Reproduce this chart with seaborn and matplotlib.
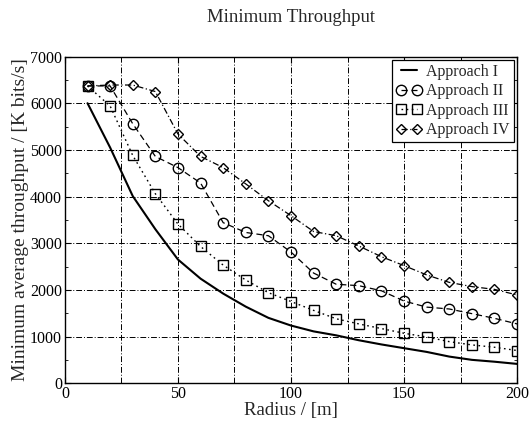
import numpy as np
import pandas as pd
import seaborn as sns
import matplotlib
matplotlib.use("Agg")
import matplotlib.pyplot as plt
from matplotlib.ticker import MultipleLocator

radius = [10, 20, 30, 40, 50, 60, 70, 80, 90, 100, 110, 120, 130, 140, 150, 160, 170, 180, 190, 200]
approach_1 = [6000, 5050, 4010, 3300, 2650, 2240, 1920, 1640, 1400, 1235, 1110, 1025, 920, 830, 750, 670, 570, 500, 460, 413]
approach_2 = [6370, 6370, 5560, 4860, 4620, 4290, 3440, 3230, 3160, 2810, 2360, 2120, 2090, 1980, 1760, 1630, 1590, 1490, 1390, 1270]
approach_3 = [6370, 5940, 4880, 4060, 3410, 2930, 2530, 2210, 1940, 1750, 1560, 1380, 1270, 1170, 1070, 990, 890, 820, 770, 700]
approach_4 = [6370, 6390, 6390, 6250, 5340, 4860, 4620, 4270, 3910, 3590, 3250, 3160, 2940, 2710, 2520, 2320, 2160, 2070, 2010, 1890]
labels = ["Approach I", "Approach II", "Approach III", "Approach IV"]

sns.set_theme(style="white")
plt.rcParams['font.family'] = ['Liberation Serif', 'DejaVu Serif']

fig = plt.figure(figsize=(5.32, 4.22), dpi=100)
ax = fig.add_axes([0.122, 0.092, 0.850, 0.774])

styles = [
    dict(linestyle='-', marker=None, lw=1.5),
    dict(linestyle=(0, (5, 3)), marker='o', ms=7.5, lw=0.9),
    dict(linestyle=(0, (1.2, 2.5)), marker='s', ms=7, lw=1.0),
    dict(linestyle=(0, (5, 2, 1, 2)), marker='D', ms=5.5, lw=0.9),
]
series = [approach_1, approach_2, approach_3, approach_4]
for lab, vals, st in zip(labels, series, styles):
    df = pd.DataFrame({"Radius": radius, "Throughput": vals})
    kw = dict(color='black', linestyle=st['linestyle'], linewidth=st['lw'])
    if st['marker']:
        kw.update(marker=st['marker'], markersize=st['ms'], markerfacecolor='none',
                  markeredgecolor='black', markeredgewidth=1.0)
    sns.lineplot(data=df, x="Radius", y="Throughput", ax=ax, label=lab, **kw)

ax.set_xlim(0, 200)
ax.set_ylim(0, 7000)
ax.xaxis.set_major_locator(MultipleLocator(50))
ax.xaxis.set_minor_locator(MultipleLocator(25))
ax.yaxis.set_major_locator(MultipleLocator(1000))
ax.yaxis.set_minor_locator(MultipleLocator(500))
ax.tick_params(axis='both', which='both', direction='in', labelsize=11.5, colors='black')
ax.tick_params(which='major', length=4, width=0.8, left=True, bottom=True, right=True, top=True)
ax.tick_params(which='minor', length=2, width=0.6, left=True, bottom=False, right=True, top=False)
ax.tick_params(axis='x', pad=2)
ax.tick_params(axis='y', pad=2)
ax.grid(True, which='major', color='black', linestyle=(0, (6, 2, 1, 2)), linewidth=0.7)
ax.grid(True, which='minor', axis='x', color='black', linestyle=(0, (6, 2, 1, 2)), linewidth=0.7)
for sp in ax.spines.values():
    sp.set_color('black')
    sp.set_linewidth(1.0)

ax.set_xlabel("Radius / [m]", fontsize=13.5, labelpad=0)
ax.set_ylabel("Minimum average throughput / [K bits/s]", fontsize=14, labelpad=1)
ax.set_title("Minimum Throughput", fontsize=13.5, pad=25)

leg = ax.legend(loc='upper right', fontsize=11.5, numpoints=2, frameon=True, fancybox=False,
                edgecolor='black', framealpha=1, borderpad=0.25, handlelength=1.6,
                handletextpad=0.3, labelspacing=0.22, borderaxespad=0.2)
leg.get_frame().set_linewidth(0.9)

fig.savefig("out.png", dpi=100)
